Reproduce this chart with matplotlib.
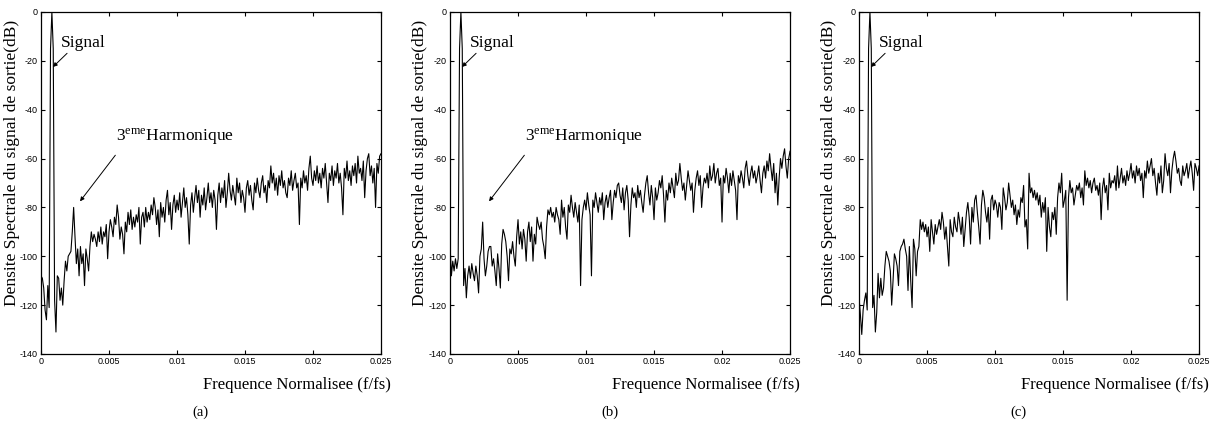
import numpy as np
import matplotlib
matplotlib.use('Agg')
from matplotlib import pyplot as plt

# frequence normalisee, pas de 0.0001 entre 0 et 0.025
freq_step = 0.0001
n_points = 251

# densite spectrale (dB) lue sur chaque sous-figure
dsp_a = [
    -108, -109, -113, -122, -126, -112, -121, -15, 0, -15,
    -118, -131, -108, -109, -118, -113, -120, -110, -102, -106,
    -100, -99, -98, -90, -80, -92, -103, -97, -108, -96,
    -103, -99, -112, -97, -101, -106, -96, -90, -94, -91,
    -93, -96, -90, -94, -88, -95, -90, -92, -87, -101,
    -90, -85, -88, -92, -84, -87, -79, -84, -93, -88,
    -91, -99, -86, -90, -82, -87, -81, -89, -84, -88,
    -83, -86, -80, -95, -84, -82, -88, -80, -86, -82,
    -85, -79, -83, -76, -80, -87, -81, -92, -78, -84,
    -80, -86, -77, -73, -83, -78, -89, -79, -75, -82,
    -77, -81, -74, -84, -78, -72, -80, -76, -83, -95,
    -79, -74, -82, -76, -71, -78, -73, -84, -75, -79,
    -72, -81, -76, -70, -78, -74, -80, -73, -77, -89,
    -75, -70, -78, -72, -76, -69, -80, -74, -66, -73,
    -77, -71, -75, -79, -68, -74, -70, -78, -73, -76,
    -82, -72, -69, -75, -71, -77, -81, -70, -74, -68,
    -73, -76, -70, -67, -74, -71, -78, -69, -72, -63,
    -70, -66, -73, -68, -75, -67, -71, -65, -72, -69,
    -74, -76, -68, -71, -65, -73, -69, -66, -72, -70,
    -87, -68, -72, -65, -70, -67, -73, -64, -59, -68,
    -71, -65, -69, -63, -70, -66, -72, -64, -68, -62,
    -70, -78, -66, -69, -63, -71, -65, -68, -62, -70,
    -66, -72, -83, -64, -68, -61, -69, -65, -71, -63,
    -67, -62, -70, -59, -66, -64, -69, -61, -76, -65,
    -60, -58, -67, -63, -70, -64, -80, -62, -66, -59,
    -58,
]

dsp_b = [
    -95, -108, -102, -106, -101, -105, -101, -15, 0, -15,
    -112, -105, -117, -108, -104, -109, -103, -107, -110, -104,
    -108, -115, -100, -97, -86, -101, -108, -104, -98, -96,
    -96, -104, -101, -106, -112, -99, -105, -113, -95, -89,
    -91, -94, -100, -110, -97, -99, -94, -100, -104, -92,
    -85, -95, -90, -97, -89, -93, -102, -90, -86, -94,
    -88, -102, -91, -95, -84, -87, -89, -86, -93, -96,
    -101, -88, -81, -83, -80, -84, -82, -86, -80, -83,
    -85, -91, -77, -84, -80, -88, -93, -79, -82, -75,
    -80, -84, -78, -82, -86, -79, -112, -85, -80, -77,
    -81, -74, -79, -83, -108, -77, -80, -74, -78, -82,
    -76, -79, -74, -85, -78, -75, -80, -76, -73, -85,
    -78, -73, -76, -71, -70, -75, -78, -72, -81, -74,
    -71, -77, -92, -79, -72, -76, -74, -80, -71, -76,
    -73, -78, -82, -75, -70, -67, -74, -79, -71, -76,
    -85, -72, -77, -74, -69, -72, -67, -75, -86, -73,
    -77, -70, -74, -68, -72, -76, -66, -71, -69, -62,
    -68, -73, -70, -77, -71, -65, -69, -73, -70, -82,
    -73, -68, -65, -71, -67, -80, -72, -68, -70, -66,
    -72, -63, -69, -67, -62, -70, -66, -64, -71, -68,
    -86, -67, -70, -64, -68, -74, -66, -71, -65, -69,
    -73, -85, -67, -70, -65, -68, -72, -64, -61, -67,
    -71, -66, -63, -68, -65, -70, -67, -63, -69, -74,
    -66, -63, -68, -61, -65, -58, -64, -69, -62, -74,
    -66, -79, -68, -60, -64, -59, -56, -63, -68, -60,
    -57,
]

dsp_c = [
    -117, -124, -132, -122, -118, -115, -122, -15, 0, -15,
    -121, -116, -131, -123, -107, -117, -109, -116, -113, -104,
    -98, -100, -102, -106, -120, -110, -99, -101, -104, -112,
    -98, -96, -95, -93, -97, -100, -114, -96, -110, -121,
    -93, -97, -108, -98, -96, -85, -89, -86, -90, -87,
    -92, -88, -98, -85, -90, -95, -87, -91, -88, -85,
    -89, -82, -86, -93, -88, -96, -104, -85, -90, -92,
    -84, -88, -90, -82, -86, -91, -84, -96, -89, -82,
    -78, -84, -95, -80, -86, -77, -75, -82, -88, -95,
    -79, -73, -76, -82, -86, -80, -93, -77, -75, -81,
    -77, -79, -84, -78, -80, -89, -72, -76, -81, -78,
    -70, -75, -80, -77, -83, -79, -87, -81, -84, -76,
    -78, -71, -88, -85, -97, -66, -74, -72, -76, -73,
    -77, -74, -79, -75, -84, -78, -82, -76, -98, -80,
    -88, -92, -82, -85, -80, -91, -76, -70, -74, -66,
    -80, -77, -73, -118, -76, -69, -74, -72, -79, -75,
    -71, -73, -70, -76, -72, -79, -65, -71, -68, -72,
    -69, -74, -70, -68, -73, -71, -75, -70, -85, -72,
    -68, -74, -71, -81, -66, -72, -69, -70, -67, -73,
    -63, -72, -68, -64, -70, -67, -71, -65, -69, -66,
    -62, -68, -65, -70, -63, -67, -64, -69, -66, -76,
    -65, -68, -61, -66, -63, -60, -67, -64, -70, -75,
    -66, -70, -63, -74, -69, -58, -64, -67, -62, -74,
    -65, -60, -57, -61, -66, -64, -69, -71, -63, -67,
    -65, -62, -68, -64, -61, -66, -73, -62, -64, -67,
    -63,
]

x_ticks = [0, 0.005, 0.01, 0.015, 0.02, 0.025]
x_tick_labels = ['0', '0.005', '0.01', '0.015', '0.02', '0.025']
y_ticks = [-140, -120, -100, -80, -60, -40, -20, 0]
captions = ['(a)', '(b)', '(c)']

plt.rcParams['font.family'] = 'sans-serif'
plt.rcParams['font.sans-serif'] = ['Liberation Sans']
plt.rcParams['axes.unicode_minus'] = False
plt.rcParams['mathtext.fontset'] = 'custom'
plt.rcParams['mathtext.rm'] = 'Liberation Serif'

serif = 'Liberation Serif'
freq = np.arange(n_points) * freq_step

fig = plt.figure(figsize=(12.13, 4.24), dpi=100)


def draw_panel(left, dsp, caption, harmonique, ylab_x):
    ax = fig.add_axes([left, 0.1651, 0.2803, 0.8066])
    ax.plot(freq, dsp, color='black', linewidth=0.8)
    ax.set_xlim(0, 0.025)
    ax.set_ylim(-140, 0)
    ax.set_xticks(x_ticks)
    ax.set_xticklabels(x_tick_labels)
    ax.set_yticks(y_ticks)
    ax.tick_params(direction='in', length=3, width=0.8, labelsize=6.5,
                   top=True, right=True, pad=2.5)
    for s in ax.spines.values():
        s.set_linewidth(0.9)

    ax.set_ylabel('Densite Spectrale du signal de sortie(dB)',
                  family=serif, fontsize=12.5)
    ax.yaxis.set_label_coords(ylab_x, 0.56)
    ax.text(1.03, -0.09, 'Frequence Normalisee (f/fs)', transform=ax.transAxes,
            family=serif, fontsize=12, ha='right', va='center')
    ax.text(0.47, -0.17, caption, transform=ax.transAxes,
            family=serif, fontsize=10.5, ha='center', va='center')

    # fleche vers le signal
    ax.annotate('Signal', xy=(0.00088, -22.5), xytext=(0.00147, -12.5),
                family=serif, fontsize=12.5, va='center', ha='left',
                arrowprops=dict(arrowstyle='-|>', color='black', lw=0.7,
                                mutation_scale=6, shrinkA=0, shrinkB=0,
                                relpos=(0.2, 0.0)))

    if harmonique:
        ax.annotate('3$^{\\mathrm{eme}}$Harmonique', xy=(0.00287, -77.5),
                    xytext=(0.0055, -51), family=serif, fontsize=12.5,
                    va='center', ha='left',
                    arrowprops=dict(arrowstyle='-|>', color='black', lw=0.7,
                                    mutation_scale=6, shrinkA=5, shrinkB=0,
                                    relpos=(0.05, 0.0)))
    return ax


draw_panel(0.0338, dsp_a, captions[0], True, -0.062)
draw_panel(0.3710, dsp_b, captions[1], True, -0.066)
draw_panel(0.7082, dsp_c, captions[2], False, -0.066)

plt.savefig('out.png', dpi=100)
